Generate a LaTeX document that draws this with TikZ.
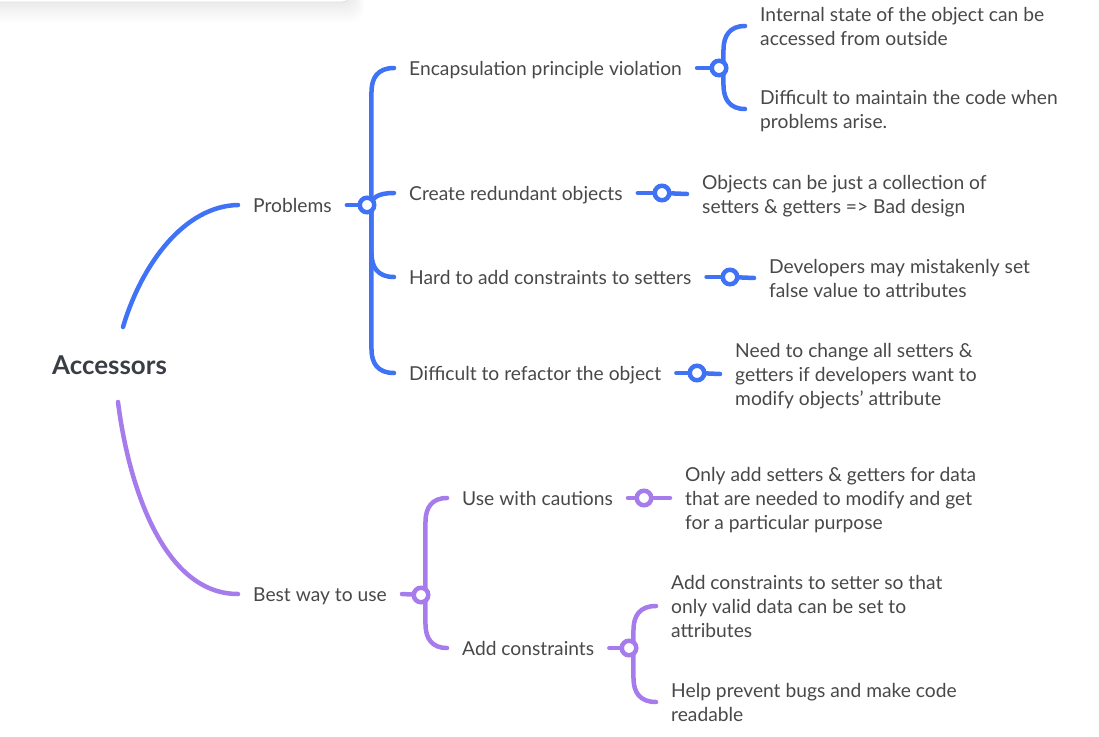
\documentclass[tikz,border=0pt]{standalone}
\usepackage{fontspec}
\setmainfont{Lato}
\usetikzlibrary{calc}
\pgfdeclarelayer{background}
\pgfsetlayers{background,main}
\definecolor{bluec}{RGB}{64,114,246}
\definecolor{purplec}{RGB}{166,124,236}
\definecolor{txtc}{RGB}{72,72,72}
\definecolor{rootc}{RGB}{58,62,68}
\newcommand{\tS}{\rule[-7.2bp]{0pt}{30bp}}
\newcommand{\tE}{\rule[-7.2bp]{0pt}{7.2bp}}
\tikzset{
  txt/.style={anchor=west,inner xsep=15bp,inner ysep=0pt,align=left,text=txtc,
    font=\fontsize{19.3}{24}\selectfont},
  rootnode/.style={anchor=west,inner sep=0pt,text=rootc,font=\fontsize{26}{30}\selectfont\bfseries},
  knob/.style={circle,draw,fill=white,line width=4.5bp,minimum size=14.5bp,inner sep=0pt},
  bluek/.style={knob,draw=bluec},
  purk/.style={knob,draw=purplec},
  bl/.style={draw=bluec,line width=4.5bp,line cap=round},
  pl/.style={draw=purplec,line width=4.5bp,line cap=round},
  rootline/.style={line width=4.5bp,line cap=round},
  branch/.style={to path={let \p1=(\tikztostart), \p2=(\tikztotarget),
      \n1={min(24,abs(\y2-\y1))*sign(\y2-\y1)} in
    (\x1+4.5,\y1) -- (\x1+4.5,\y2-\n1)
      .. controls (\x1+4.5,\y2-0.4*\n1) and (\x1+11,\y2) .. (\tikztotarget)}}
}
\begin{document}
\begin{tikzpicture}[x=1bp,y=-1bp]
\useasboundingbox (0,0) rectangle (1099,737);
% top card with shadow
\foreach \i in {1,...,10}{
  \fill[black,opacity=0.007,rounded corners=12] (-30,-30) rectangle (352+1.2*\i,2+2*\i);
}
\fill[white,rounded corners=10] (-30,-30) rectangle (352,2);
\draw[black!12,line width=0.8bp,rounded corners=10] (-30,-30) -- (-30,2) -- (352,2) -- (352,-30);

% root
\node[rootnode] (acc) at (52,365) {Accessors};
\coordinate (rb) at (123,327);
\coordinate (rp) at (118,402);

% problems branch
\node[txt] (p) at (238,205) {\tS Problems\tE};
\node[bluek] (cp) at (367,205) {};
\node[txt] (e) at (394,68) {\tS Encapsulation principle violation\tE};
\node[txt] (cr) at (394,193) {\tS Create redundant objects\tE};
\node[txt] (h) at (394,277) {\tS Hard to add constraints to setters\tE};
\node[txt] (d) at (394,373) {\tS Difficult to refactor the object\tE};
\node[bluek] (ce) at (719,68) {};
\node[bluek] (ccr) at (662,193) {};
\node[bluek] (ch) at (730,277) {};
\node[bluek] (cd) at (697,373) {};
\node[txt] (e1) at (745,26) {\tS Internal state of the object can be\\accessed from outside\tE};
\node[txt] (e2) at (745,109) {\tS Difficult to maintain the code when\\problems arise.\tE};
\node[txt] (cr1) at (687,194) {\tS Objects can be just a collection of\\setters \& getters => Bad design\tE};
\node[txt] (h1) at (754,278) {\tS Developers may mistakenly set\\false value to attributes\tE};
\node[txt] (d1) at (720,374) {\tS Need to change all setters \&\\getters if developers want to\\modify objects' attribute\tE};

% best way branch
\node[txt] (b) at (238,594) {\tS Best way to use\tE};
\node[purk] (cb) at (421,595) {};
\node[txt] (u) at (447,498) {\tS Use with cautions\tE};
\node[txt] (a) at (447,648) {\tS Add constraints\tE};
\node[purk] (cu) at (644,498) {};
\node[purk] (ca) at (629,648) {};
\node[txt] (u1) at (670,498) {\tS Only add setters \& getters for data\\that are needed to modify and get\\for a particular purpose\tE};
\node[txt] (a1) at (656,606) {\tS Add constraints to setter so that\\only valid data can be set to\\attributes\tE};
\node[txt] (a2) at (656,702) {\tS Help prevent bugs and make code\\readable\tE};

\begin{pgfonlayer}{background}
\draw[bl,rootline] (rb) .. controls (142,263) and (185,206) .. (p.west);
\draw[pl,rootline] (rp) .. controls (128,482) and (162,594) .. (b.west);
\draw[bl] (p.east) -- (cp);
\foreach \t in {e,cr,h,d} \draw[bl] (cp.center) to[branch] (\t.west);
\draw[bl] (e.east) -- (ce);
\draw[bl] (cr.east) -- (ccr);
\draw[bl] (h.east) -- (ch);
\draw[bl] (d.east) -- (cd);
\foreach \t in {e1,e2} \draw[bl] (ce.center) to[branch] (\t.west);
\draw[bl] (ccr) -- (cr1.west);
\draw[bl] (ch) -- (h1.west);
\draw[bl] (cd) -- (d1.west);
\draw[pl] (b.east) -- (cb);
\foreach \t in {u,a} \draw[pl] (cb.center) to[branch] (\t.west);
\draw[pl] (u.east) -- (cu);
\draw[pl] (a.east) -- (ca);
\draw[pl] (cu) -- (u1.west);
\foreach \t in {a1,a2} \draw[pl] (ca.center) to[branch] (\t.west);
\end{pgfonlayer}
\end{tikzpicture}
\end{document}
